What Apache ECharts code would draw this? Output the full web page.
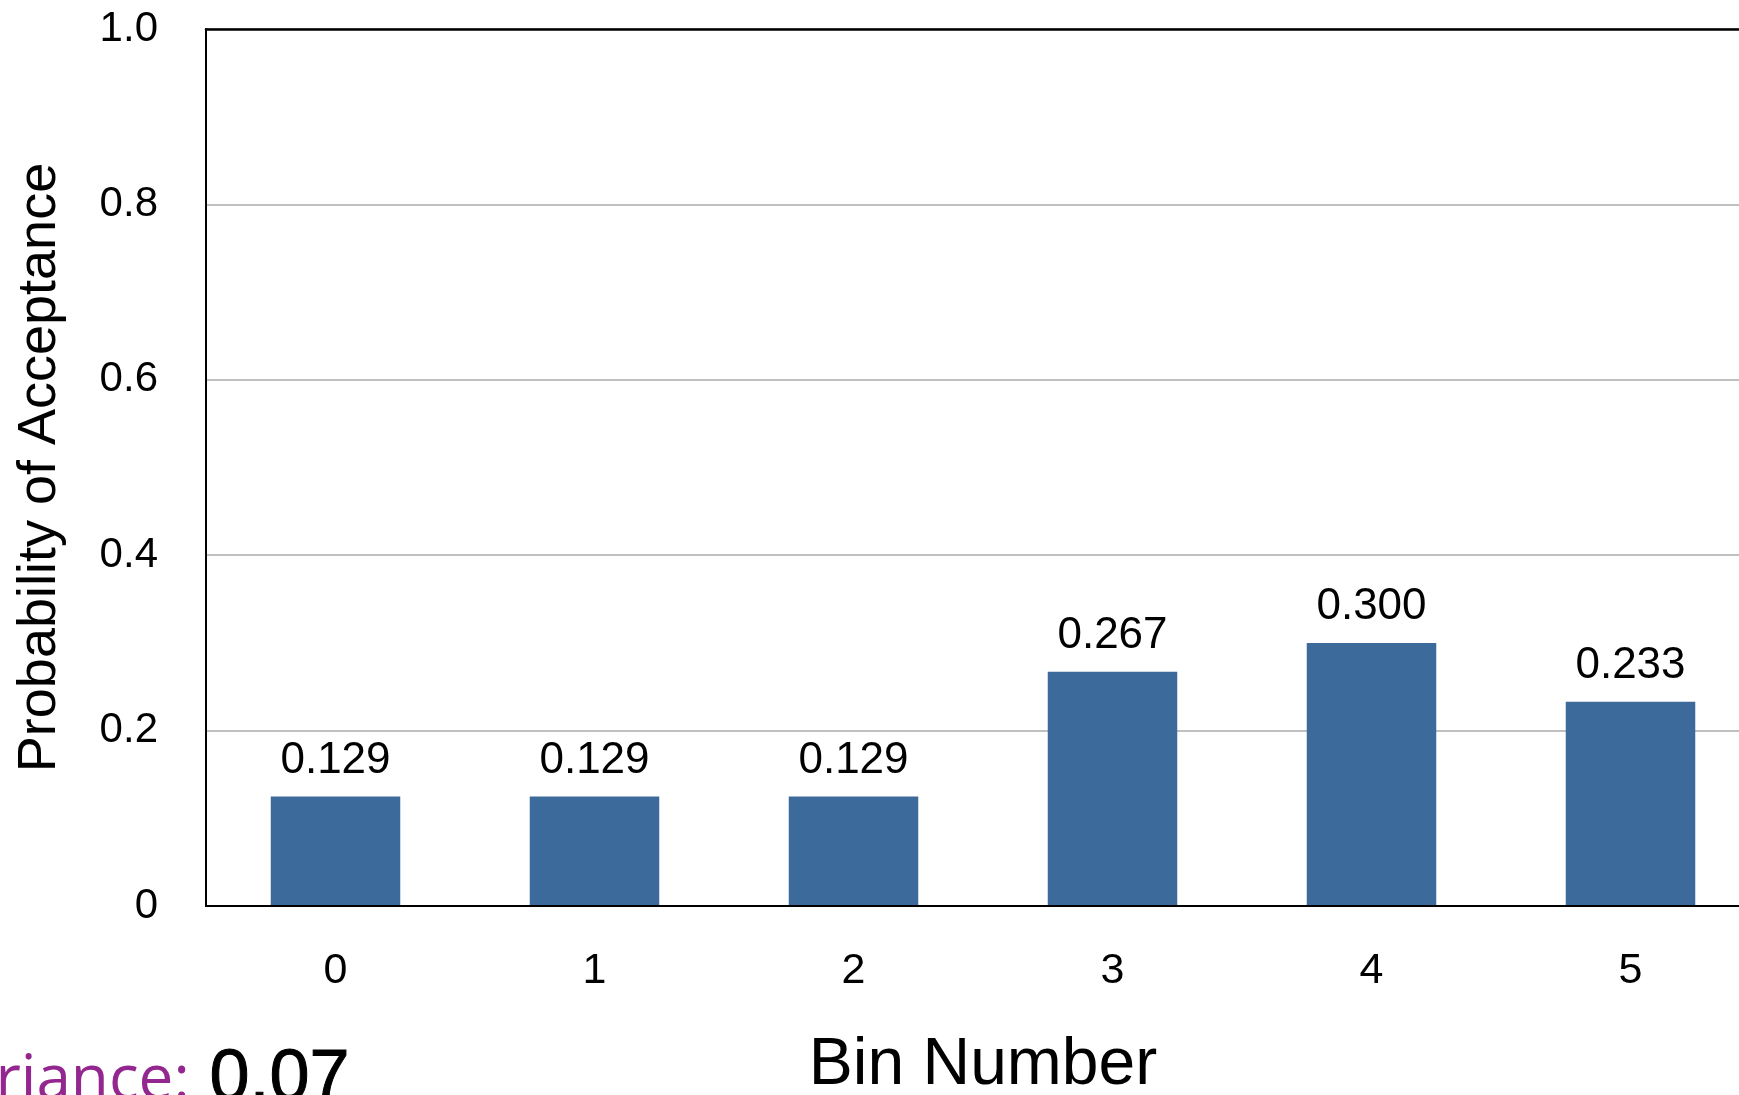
<!DOCTYPE html>
<html>
<head>
<meta charset="utf-8">
<script src="https://cdn.jsdelivr.net/npm/echarts@6/dist/echarts.min.js"></script>
<style>
html,body{margin:0;padding:0;background:#fff;}
#chart{width:1739px;height:1095px;}
</style>
</head>
<body>
<div id="chart"></div>
<script>
const categories = ['0', '1', '2', '3', '4', '5'];
const values = [0.125, 0.125, 0.125, 0.267, 0.300, 0.233];
const valueLabels = ['0.129', '0.129', '0.129', '0.267', '0.300', '0.233'];
const yTicks = [0, 0.2, 0.4, 0.6, 0.8, 1.0];
const yAxisTitle = 'Probability of Acceptance';
const xAxisTitle = 'Bin Number';
const varianceLabel = 'Variance:';
const varianceValue = '0.07';

const chart = echarts.init(document.getElementById('chart'), null, {renderer: 'canvas'});
const font = '"Liberation Sans", Arial, Helvetica, sans-serif';

chart.setOption({
  backgroundColor: '#ffffff',
  animation: false,
  grid: {
    left: 206, top: 29, width: 1554, height: 877,
    outerBoundsMode: 'none', containLabel: false,
    show: false
  },
  xAxis: [{
    type: 'category',
    data: categories,
    name: xAxisTitle,
    nameLocation: 'middle',
    nameGap: 127,
    nameTextStyle: {fontFamily: font, fontSize: 66, color: '#000'},
    axisLine: {show: true, lineStyle: {color: '#000', width: 2}},
    axisTick: {show: false},
    axisLabel: {fontFamily: font, fontSize: 43, color: '#000', margin: 44},
    splitLine: {show: false},
    z: 5
  }, {
    type: 'category',
    data: categories,
    position: 'top',
    axisLine: {show: true, onZero: false, lineStyle: {color: '#000', width: 2.5}},
    axisTick: {show: false},
    axisLabel: {show: false},
    splitLine: {show: false},
    z: 5
  }],
  yAxis: {
    type: 'value',
    min: yTicks[0],
    max: yTicks[yTicks.length - 1],
    interval: 0.2,
    name: yAxisTitle,
    nameLocation: 'middle',
    nameGap: 139,
    nameTextStyle: {fontFamily: font, fontSize: 54, color: '#000'},
    axisLine: {show: true, lineStyle: {color: '#000', width: 2}},
    axisTick: {show: false},
    axisLabel: {
      fontFamily: font, fontSize: 42, color: '#000', margin: 48,
      formatter: v => (Math.abs(v) < 1e-9 ? '0' : v.toFixed(1))
    },
    splitLine: {show: true, lineStyle: {color: '#c0c0c0', width: 2}}
  },
  series: [{
    type: 'bar',
    data: values,
    barWidth: '50%',
    itemStyle: {color: '#3c6a9a'},
    label: {
      show: true,
      position: 'top',
      distance: 14,
      fontFamily: font,
      fontSize: 44,
      color: '#000',
      formatter: p => valueLabels[p.dataIndex]
    }
  }],
  graphic: [
    {
      type: 'text', left: -76, top: 1050, silent: true,
      style: {text: varianceLabel, fontFamily: '"Open Sans", sans-serif', fontSize: 62, fill: '#93278f'}
    },
    {
      type: 'text', left: 209, top: 1044, silent: true,
      style: {text: varianceValue, fontFamily: font, fontSize: 72, fill: '#000', stroke: '#000', lineWidth: 1}
    }
  ]
});
</script>
</body>
</html>
